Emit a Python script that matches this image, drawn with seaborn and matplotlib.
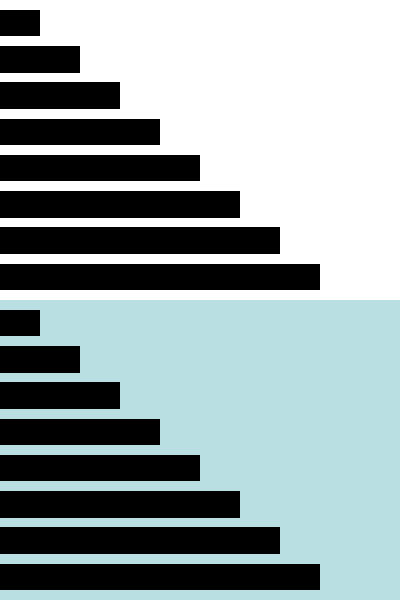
import matplotlib
matplotlib.use("Agg")
import matplotlib.pyplot as plt
import seaborn as sns
import pandas as pd

# same eight bars in both panels
categories = ["a", "b", "c", "d", "e", "f", "g", "h"]
values = [1, 2, 3, 4, 5, 6, 7, 8]
panel_colors = ["#ffffff", "#b9dfe2"]

df = pd.DataFrame({"cat": categories, "val": values})

fig = plt.figure(figsize=(4, 6), dpi=100)
fig.patch.set_facecolor("white")

for i, bg in enumerate(panel_colors):
    ax = fig.add_axes([0, 0.5 - 0.5 * i, 1, 0.5])
    ax.set_facecolor(bg)
    sns.barplot(data=df, x="val", y="cat", orient="h", color="black",
                width=0.73, edgecolor="none", saturation=1, ax=ax)
    ax.set_xlim(0, 10)
    ax.set_ylim(7.5 + 0.134, -0.5 - 0.134)
    ax.set_xlabel("")
    ax.set_ylabel("")
    ax.set_xticks([])
    ax.set_yticks([])
    for s in ax.spines.values():
        s.set_visible(False)

fig.savefig("out.png", dpi=100)
